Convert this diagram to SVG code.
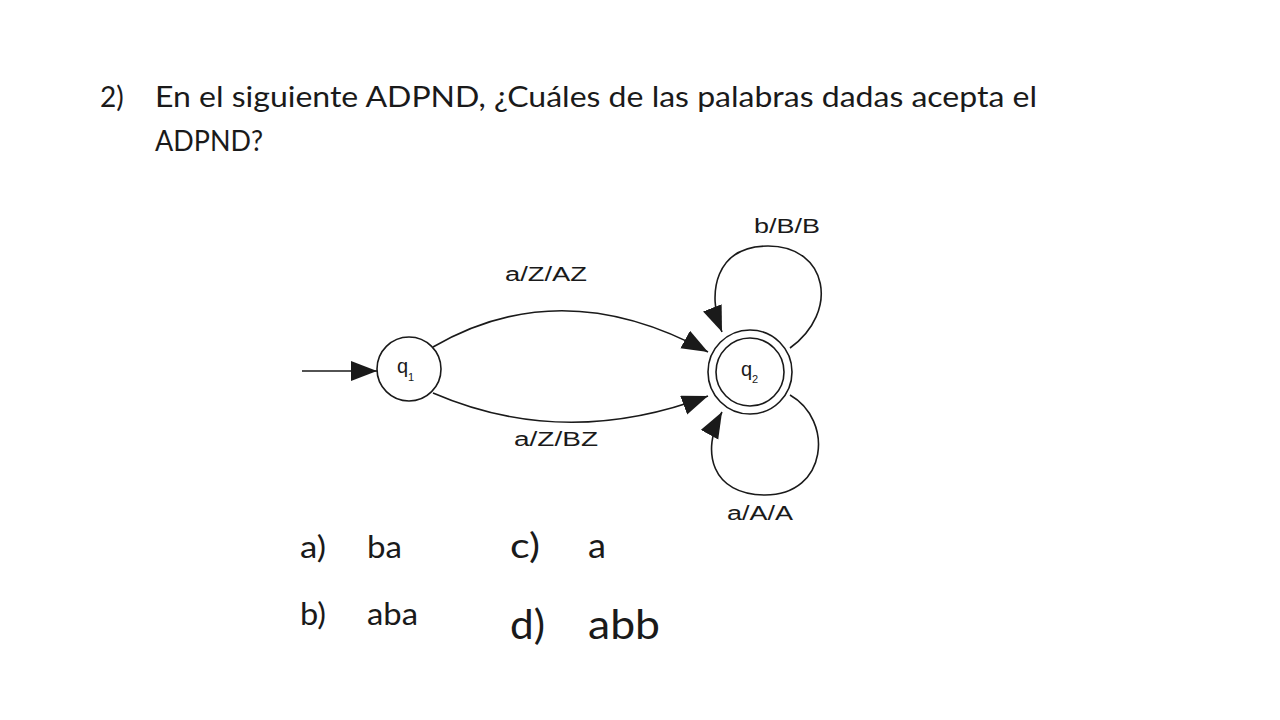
<svg xmlns="http://www.w3.org/2000/svg" width="1280" height="720" viewBox="0 0 1280 720">
<style>
.t{font-family:Lato,"Open Sans","Liberation Sans",sans-serif;fill:#1a1a1a}
.d{font-family:"Liberation Sans",Arial,sans-serif;fill:#1a1a1a}
.st{fill:#fff;stroke:#1a1a1a;stroke-width:1.6}
.e{fill:none;stroke:#1a1a1a;stroke-width:1.6}
</style>
<defs>
<marker id="ah" markerUnits="userSpaceOnUse" markerWidth="28" markerHeight="22" refX="26" refY="10" orient="auto">
<path d="M0 0 L26 10 L0 20 Z" fill="#1a1a1a"/>
</marker>
</defs>
<rect width="1280" height="720" fill="#fff"/>
<g id="title">
<text class="t" x="100" y="107" font-size="28">2)</text>
<text class="t" x="155" y="107" font-size="28" textLength="882" lengthAdjust="spacingAndGlyphs">En el siguiente ADPND, ¿Cuáles de las palabras dadas acepta el</text>
<text class="t" x="155" y="151" font-size="28" textLength="108" lengthAdjust="spacingAndGlyphs">ADPND?</text>
</g>
<g id="edges">
<path class="e" d="M302 371 L377 371" marker-end="url(#ah)"/>
<path class="e" d="M433 347 Q562 272 708 352" marker-end="url(#ah)"/>
<path class="e" d="M433 393 Q565 450 708 396" marker-end="url(#ah)"/>
<path class="e" d="M790 348 C840 312 828 246 768 246 C716 246 706 292 722 332" marker-end="url(#ah)"/>
<path class="e" d="M790 395 C834 420 828 495 765 495 C712 495 700 452 722 412" marker-end="url(#ah)"/>
<text class="d" x="546" y="281" font-size="20" text-anchor="middle" textLength="82" lengthAdjust="spacingAndGlyphs">a/Z/AZ</text>
<text class="d" x="556" y="446" font-size="20" text-anchor="middle" textLength="84" lengthAdjust="spacingAndGlyphs">a/Z/BZ</text>
<text class="d" x="787" y="233" font-size="20" text-anchor="middle" textLength="66" lengthAdjust="spacingAndGlyphs">b/B/B</text>
<text class="d" x="760" y="520" font-size="20" text-anchor="middle" textLength="66" lengthAdjust="spacingAndGlyphs">a/A/A</text>
</g>
<g id="q1">
<circle class="st" cx="409" cy="369" r="32"/>
<text class="d" x="397" y="373" font-size="20">q</text>
<text class="d" x="408" y="381" font-size="11">1</text>
</g>
<g id="q2">
<circle class="st" cx="750" cy="372" r="42"/>
<circle class="st" cx="750" cy="372" r="34"/>
<text class="d" x="741" y="376" font-size="20">q</text>
<text class="d" x="752" y="383" font-size="11">2</text>
</g>
<g id="answers">
<text class="t" x="300" y="558" font-size="30" textLength="26" lengthAdjust="spacingAndGlyphs">a)</text>
<text class="t" x="367" y="558" font-size="30" textLength="35" lengthAdjust="spacingAndGlyphs">ba</text>
<text class="t" x="300" y="625" font-size="30" textLength="26" lengthAdjust="spacingAndGlyphs">b)</text>
<text class="t" x="367" y="625" font-size="30" textLength="51" lengthAdjust="spacingAndGlyphs">aba</text>
<text class="t" x="510" y="558" font-size="34" textLength="30" lengthAdjust="spacingAndGlyphs">c)</text>
<text class="t" x="588" y="558" font-size="34" textLength="18" lengthAdjust="spacingAndGlyphs">a</text>
<text class="t" x="510" y="639" font-size="40" textLength="35" lengthAdjust="spacingAndGlyphs">d)</text>
<text class="t" x="588" y="639" font-size="40" textLength="72" lengthAdjust="spacingAndGlyphs">abb</text>
</g>
</svg>
